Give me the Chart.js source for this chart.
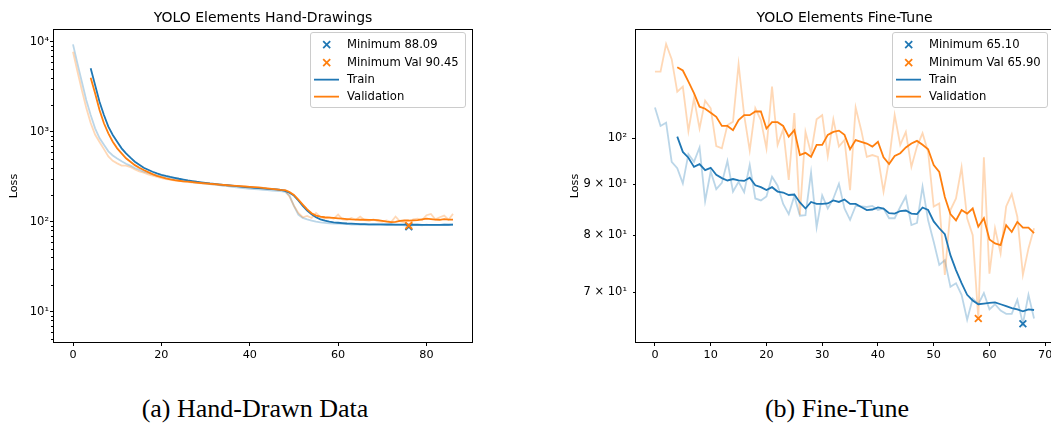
<!DOCTYPE html>
<html>
<head>
<meta charset="utf-8">
<title>YOLO Elements loss</title>
<script src="https://cdn.jsdelivr.net/npm/chart.js@4.4.1/dist/chart.umd.min.js"></script>
<style>
    body {
        margin: 0;
        width: 1051px;
        height: 426px;
        overflow: hidden;
        position: relative;
        background: #fff;
        font-family: "DejaVu Sans", sans-serif;
    }
    canvas { position: absolute; top: 0; }
    #chart-a { left: 0; }
    #chart-b { left: 560px; }
    .legend {
        position: absolute;
        top: 32px;
        width: 156px;
        height: 76px;
        box-sizing: border-box;
        padding-top: 3.3px;
        border: 1px solid #cccccc;
        border-radius: 3px;
        background: rgba(255, 255, 255, 0.8);
        font: 11.6px "DejaVu Sans", sans-serif;
        color: #000;
    }
    #legend-a { left: 310px; }
    #legend-b { left: 892px; }
    .legend .row {
        position: relative;
        height: 17.3px;
        line-height: 17.3px;
        padding-left: 36px;
        white-space: nowrap;
    }
    .legend svg { position: absolute; left: 3px; top: 0; }
    .caption {
        position: absolute;
        top: 394px;
        width: 400px;
        text-align: center;
        font: 26px "Liberation Serif", serif;
        line-height: 30px;
        color: #000;
    }
</style>
</head>
<body>
<canvas id="chart-a" width="526" height="380"></canvas>
<canvas id="chart-b" width="569" height="380"></canvas>
<div class="legend" id="legend-a"></div>
<div class="legend" id="legend-b"></div>
<div class="caption" style="left:55px">(a) Hand-Drawn Data</div>
<div class="caption" style="left:637px">(b) Fine-Tune</div>

<script>
// (a) Hand-drawn data: raw losses per epoch (0..86), smoothed from epoch 4
const trainRawA = [9350, 5750, 3590, 2250, 1535, 1090, 850, 715, 605, 545,
    505, 470, 440, 420, 395, 378, 360, 348, 336, 325,
    316, 310, 302, 297, 290, 285, 282, 276, 272, 268,
    265, 262, 258, 255, 250, 248, 244, 240, 238, 235,
    231, 230, 228, 226, 224, 222, 220, 218, 215, 195,
    150, 120, 110, 106, 103, 100, 98, 97, 96, 95,
    95.5, 94, 94.5, 93, 93.5, 92.5, 93, 92, 93, 92.5,
    91.5, 92, 92.5, 91.5, 92, 91, 88.09, 91.5, 92, 91,
    92.5, 91.5, 92, 91.5, 92.5, 92, 93];
const valRawA = [7740, 4700, 2900, 1850, 1250, 930, 770, 640, 530, 475,
    445, 420, 420, 405, 380, 362, 350, 336, 325, 314,
    305, 298, 294, 286, 284, 278, 277, 271, 270, 266,
    264, 262, 258, 257, 253, 252, 248, 249, 245, 243,
    241, 240, 236, 235, 232, 230, 228, 226, 222, 190,
    150, 125, 112, 116, 110, 125, 113, 108, 112, 108,
    120, 106, 104, 110, 105, 114, 104, 102, 106, 101,
    100, 103, 99, 114, 101, 98, 90.45, 106, 108, 104,
    118, 122, 106, 112, 117, 105, 122];
const smoothStartA = 4;
const trainSmoothA = [5060, 3300, 2155, 1535, 1137, 919,
    774, 653, 575, 514, 464, 430, 398, 378, 359, 344,
    332, 322, 314, 307, 300, 294, 288, 283, 278, 274,
    270, 266, 263, 260, 257, 254, 251, 248, 245, 242,
    240, 238, 236, 234, 232, 230, 228, 225, 220, 210,
    195, 172, 150, 133, 121, 112, 106, 102.5, 100, 98.5,
    97.3, 96.3, 95.5, 95, 94.5, 94, 93.7, 93.4, 93.3, 93.2,
    93.1, 93, 93, 92.9, 92.8, 92.7, 92.6, 92.5, 92.4, 92.3,
    92.3, 92.2, 92.2, 92.3, 92.4, 92.5, 92.6];
const valSmoothA = [3980, 2670, 1740, 1240, 960, 774,
    653, 575, 506, 464, 425, 398, 375, 356, 338, 323,
    312, 303, 296, 290, 285, 281, 278, 275, 272, 269,
    267, 264, 262, 259, 257, 254, 252, 250, 248, 246,
    244, 242, 240, 237, 235, 232, 229, 226, 224, 214,
    198, 176, 155, 137, 124, 117, 114, 112, 111, 110,
    109, 108, 107, 106, 105.5, 105, 105, 104.5, 104.5, 104,
    102, 100, 99, 99.5, 102, 103, 103, 103.5, 104, 106,
    108, 107, 105.5, 105, 106.5, 105.5, 105.5];
const minEpochsA = [76, 76];        // train, validation
const minLossA = [88.09, 90.45];
const xTicksA = [0, 20, 40, 60, 80];
const yTicksA = [10, 100, 1000, 10000];
const yTickLabelsA = ['10\u00b9', '10\u00b2', '10\u00b3', '10\u2074'];
const yMinorA = [5, 6, 7, 8, 9, 20, 30, 40, 50, 60, 70, 80, 90,
    200, 300, 400, 500, 600, 700, 800, 900,
    2000, 3000, 4000, 5000, 6000, 7000, 8000, 9000];

// (b) Fine-tune: raw losses per epoch (0..68), smoothed from epoch 4
const trainRawB = [107.4, 102.9, 103.7, 94.7, 93.3, 90.1, 96.4, 94.7, 97.9, 86.5,
    92.6, 88.9, 90.2, 94.9, 88.4, 90.4, 88.3, 94.0, 87.0, 86.6,
    87.4, 91.5, 89.6, 85.9, 83.9, 87.5, 83.6, 83.7, 92.4, 81.4,
    87.6, 85.0, 87.0, 90.0, 85.0, 82.8, 85.5, 85.4, 85.3, 85.5,
    84.7, 85.0, 83.1, 83.1, 85.3, 87.4, 81.8, 82.2, 89.4, 82.7,
    78.7, 74.6, 75.4, 70.9, 71.5, 69.6, 65.7, 69.0, 68.1, 69.9,
    67.3, 68.1, 67.1, 66.6, 66.6, 68.8, 65.1, 69.6, 65.9];
const valRawB = [116.7, 116.7, 124.4, 120.1, 111.4, 112.7, 101.7, 109.7, 102.3, 109.1,
    107.2, 98.2, 97.7, 103.1, 103.9, 118.7, 105.5, 97.2, 107.2, 104.3,
    97.7, 112.7, 98.5, 102.1, 90.8, 106.0, 83.8, 101.5, 96.6, 104.5,
    105.5, 96.0, 104.5, 98.1, 99.6, 88.7, 107.4, 101.9, 95.8, 96.2,
    95.8, 88.4, 95.1, 105.5, 98.5, 101.5, 93.6, 98.1, 101.2, 96.9,
    85.4, 86.0, 72.9, 84.7, 87.0, 93.5, 83.1, 79.9, 65.9, 95.7,
    73.1, 81.2, 76.6, 85.4, 87.9, 83.4, 72.9, 77.5, 81.2];
const smoothStartB = 4;
const trainSmoothB = [100.4, 96.9, 95.6, 93.6, 94.2, 92.9,
    93.4, 91.9, 91.2, 90.7, 91.0, 90.7, 90.6, 91.3, 89.7, 89.3,
    88.7, 89.3, 88.4, 88.2, 87.7, 87.8, 86.2, 85.0, 86.3, 85.9,
    85.9, 86.0, 86.6, 86.3, 86.8, 85.9, 85.9, 85.3, 84.7, 84.8,
    85.2, 85.0, 84.1, 84.0, 84.5, 84.6, 84.0, 83.9, 85.2, 84.7,
    82.5, 81.2, 80.1, 76.3, 73.7, 71.5, 69.6, 68.7, 68.1, 68.2,
    68.3, 68.4, 68.1, 67.8, 67.5, 67.3, 67.0, 67.3, 67.2];
const valSmoothB = [117.9, 117.0, 114.0, 111.0, 107.6, 107.1,
    106.1, 105.1, 102.9, 102.9, 101.9, 104.3, 105.5, 105.5, 106.4, 106.4,
    102.3, 103.8, 103.8, 102.9, 100.4, 101.9, 96.2, 96.7, 95.8, 98.5,
    98.5, 100.8, 101.5, 101.8, 100.8, 97.5, 99.6, 99.2, 98.8, 98.1,
    99.2, 95.7, 94.2, 96.0, 96.6, 97.9, 98.8, 99.4, 98.5, 97.5,
    94.0, 92.5, 87.3, 83.9, 82.7, 84.7, 84.0, 85.0, 81.5, 83.1,
    79.1, 78.4, 78.1, 81.8, 80.5, 82.4, 81.3, 81.3, 80.3];
const minEpochsB = [66, 58];        // train, validation
const minLossB = [65.10, 65.90];
const xTicksB = [0, 10, 20, 30, 40, 50, 60, 70];
const yTicksB = [70, 80, 90, 100];
const yTickLabelsB = ['7 \u00d7 10\u00b9', '8 \u00d7 10\u00b9', '9 \u00d7 10\u00b9', '10\u00b2'];
const yMajorB = [100];
const yMinorB = [70, 80, 90];

const BLUE = '#1f77b4';
const ORANGE = '#ff7f0e';
const BLUE_FADED = 'rgba(31, 119, 180, 0.3)';
const ORANGE_FADED = 'rgba(255, 127, 14, 0.3)';

Chart.defaults.font.family = '"DejaVu Sans", sans-serif';
Chart.defaults.color = '#000';

// frame on all four sides plus short minor ticks on the y axis
const axesFrame = {
    id: 'axesFrame',
    afterDraw(chart, args, opts) {
        const {ctx, chartArea: a, scales: {y}} = chart;
        ctx.save();
        ctx.strokeStyle = '#000';
        ctx.lineWidth = 1;
        const l = Math.round(a.left) - 0.5, t = Math.round(a.top) - 0.5;
        const r = Math.round(a.right) + 0.5, b = Math.round(a.bottom) + 0.5;
        ctx.strokeRect(l, t, r - l, b - t);
        ctx.beginPath();
        (opts.minor || []).forEach(v => {
            const py = Math.round(y.getPixelForValue(v)) + 0.5;
            ctx.moveTo(l - 2.5, py);
            ctx.lineTo(l, py);
        });
        ctx.stroke();
        ctx.restore();
    }
};

function toPoints(values, start) {
    return values.map((v, i) => ({x: start + i, y: v}));
}

function lineSet(label, values, start, color) {
    return {
        label: label,
        data: toPoints(values, start),
        borderColor: color,
        borderWidth: 1.8,
        pointRadius: 0,
        tension: 0,
        fill: false
    };
}

function markerSet(label, epoch, loss, color) {
    return {
        label: label,
        data: [{x: epoch, y: loss}],
        showLine: false,
        pointStyle: 'crossRot',
        pointRadius: 4.8,
        pointBorderWidth: 1.8,
        pointBorderColor: color,
        borderColor: color,
        backgroundColor: color
    };
}

function makeChart(id, cfg) {
    return new Chart(document.getElementById(id), {
        type: 'line',
        data: {
            // first dataset is drawn on top
            datasets: [
                markerSet('Minimum Val', cfg.minEpochs[1], cfg.minLoss[1], ORANGE),
                markerSet('Minimum', cfg.minEpochs[0], cfg.minLoss[0], BLUE),
                lineSet('Validation', cfg.valSmooth, cfg.smoothStart, ORANGE),
                lineSet('Train', cfg.trainSmooth, cfg.smoothStart, BLUE),
                lineSet('Validation raw', cfg.valRaw, 0, ORANGE_FADED),
                lineSet('Train raw', cfg.trainRaw, 0, BLUE_FADED)
            ]
        },
        options: {
            responsive: false,
            animation: false,
            events: [],
            layout: {padding: 0},
            plugins: {
                legend: {display: false},
                tooltip: {enabled: false},
                title: {
                    display: true,
                    text: cfg.title,
                    font: {size: 14, weight: 'normal'},
                    color: '#000',
                    padding: {top: 10.3, bottom: 2.9}
                },
                axesFrame: {minor: cfg.yMinor}
            },
            scales: {
                x: {
                    type: 'linear',
                    bounds: 'data',
                    min: cfg.xMin,
                    max: cfg.xMax,
                    afterBuildTicks: s => { s.ticks = cfg.xTicks.map(v => ({value: v})); },
                    afterFit: s => { s.height = 38; },
                    border: {display: false},
                    grid: {display: true, drawOnChartArea: false, drawTicks: true, tickLength: 4, tickColor: '#000', tickWidth: 1},
                    ticks: {font: {size: 11.2}, color: '#000', padding: 2, maxRotation: 0, autoSkip: false, callback: v => String(v)}
                },
                y: {
                    type: 'logarithmic',
                    bounds: 'data',
                    min: cfg.yMin,
                    max: cfg.yMax,
                    afterBuildTicks: s => { s.ticks = cfg.yTicks.map(v => ({value: v})); },
                    afterFit: s => { s.width = cfg.yWidth; },
                    border: {display: false},
                    grid: {
                        display: true,
                        drawOnChartArea: false,
                        drawTicks: true,
                        tickLength: 4,
                        tickWidth: 1,
                        tickColor: c => (c.tick && cfg.yMajor.includes(c.tick.value)) ? '#000' : 'rgba(0,0,0,0)'
                    },
                    ticks: {
                        font: {size: 11.5},
                        color: '#000',
                        padding: cfg.yPad,
                        autoSkip: false,
                        callback: v => cfg.yLabels[cfg.yTicks.indexOf(v)]
                    },
                    title: {display: true, text: 'Loss', font: {size: 11.2}, color: '#000', padding: {top: cfg.titlePad, bottom: 0}}
                },
                // empty spacer on the right so the title centres over the axes
                spacer: {
                    type: 'linear',
                    position: 'right',
                    display: true,
                    grid: {display: false},
                    border: {display: false},
                    ticks: {display: false},
                    afterFit: s => { s.width = cfg.yWidth; }
                }
            }
        },
        plugins: [axesFrame]
    });
}

function buildLegend(id, items) {
    const box = document.getElementById(id);
    items.forEach(item => {
        const row = document.createElement('div');
        row.className = 'row';
        const handle = item.marker
            ? '<line x1="9.2" y1="5.15" x2="16.2" y2="12.15"/><line x1="9.2" y1="12.15" x2="16.2" y2="5.15"/>'
            : '<line x1="0" y1="8.65" x2="25" y2="8.65"/>';
        row.innerHTML = '<svg width="26" height="17.3" stroke="' + item.color + '" stroke-width="1.8">' + handle + '</svg>';
        const text = document.createElement('span');
        text.textContent = item.label;
        row.appendChild(text);
        box.appendChild(row);
    });
}

function legendItems(minLoss) {
    return [
        {label: 'Minimum ' + minLoss[0].toFixed(2), color: BLUE, marker: true},
        {label: 'Minimum Val ' + minLoss[1].toFixed(2), color: ORANGE, marker: true},
        {label: 'Train', color: BLUE, marker: false},
        {label: 'Validation', color: ORANGE, marker: false}
    ];
}

document.addEventListener('DOMContentLoaded', () => {
    makeChart('chart-a', {
        title: 'YOLO Elements Hand-Drawings',
        trainRaw: trainRawA, valRaw: valRawA,
        trainSmooth: trainSmoothA, valSmooth: valSmoothA, smoothStart: smoothStartA,
        minEpochs: minEpochsA, minLoss: minLossA,
        xMin: -4.3, xMax: 90.3, xTicks: xTicksA,
        yMin: 4.6, yMax: 13500, yTicks: yTicksA, yLabels: yTickLabelsA,
        yMajor: yTicksA, yMinor: yMinorA,
        yWidth: 54, yPad: 1, titlePad: 7.3
    });
    makeChart('chart-b', {
        title: 'YOLO Elements Fine-Tune',
        trainRaw: trainRawB, valRaw: valRawB,
        trainSmooth: trainSmoothB, valSmooth: valSmoothB, smoothStart: smoothStartB,
        minEpochs: minEpochsB, minLoss: minLossB,
        xMin: -3.4, xMax: 71.4, xTicks: xTicksB,
        yMin: 62.4, yMax: 128.5, yTicks: yTicksB, yLabels: yTickLabelsB,
        yMajor: yMajorB, yMinor: yMinorB,
        yWidth: 76, yPad: 5, titlePad: 8.3
    });
    buildLegend('legend-a', legendItems(minLossA));
    buildLegend('legend-b', legendItems(minLossB));
});
</script>
</body>
</html>
